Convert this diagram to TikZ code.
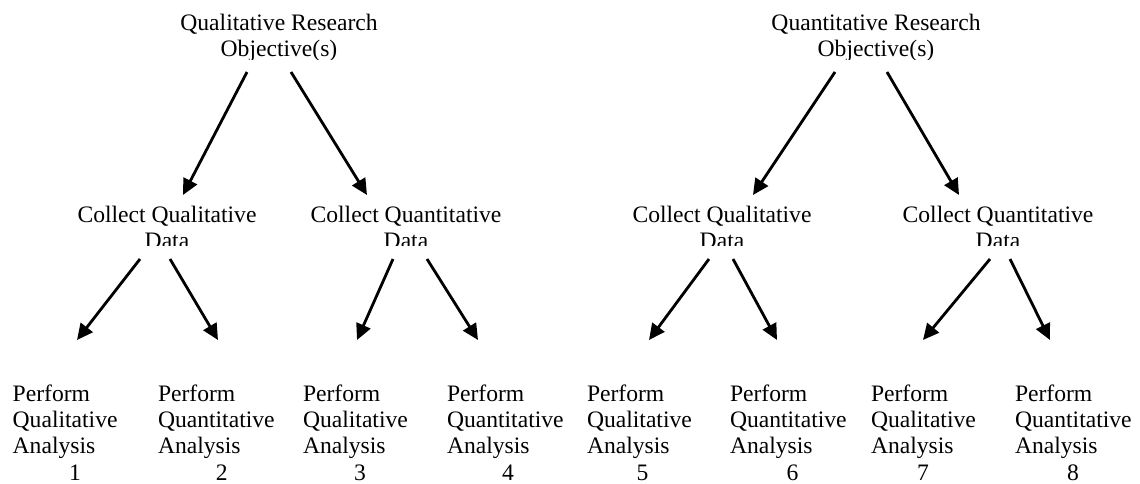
\documentclass[tikz,border=0pt]{standalone}
\usepackage{fontspec}
\setmainfont{Liberation Serif}
\usetikzlibrary{arrows.meta}
\begin{document}
\begin{tikzpicture}[x=0.5pt,y=-0.5pt,
  lbl/.style={inner sep=0pt, outer sep=0pt, anchor=base,
    font=\fontsize{11.8}{13.15}\selectfont},
  leaf/.style={lbl, anchor=base west},
  num/.style={lbl},
  arr/.style={line width=1.4pt, -{Triangle[length=8pt,width=7.5pt]}}]
\useasboundingbox (0,0) rectangle (1140,483);

% research objectives (text boxes cut off at the bottom)
\begin{scope}
  \clip (0,0) rectangle (1140,59);
  \node[lbl] (ql) at (279,30) {\begin{tabular}[t]{@{}c@{}}Qualitative Research\\Objective(s)\end{tabular}};
  \node[lbl] (qn) at (876,30) {\begin{tabular}[t]{@{}c@{}}Quantitative Research\\Objective(s)\end{tabular}};
\end{scope}

% data collection
\begin{scope}
  \clip (0,198) rectangle (1140,245);
  \node[lbl] (c1) at (167,222) {\begin{tabular}[t]{@{}c@{}}Collect Qualitative\\Data\end{tabular}};
  \node[lbl] (c2) at (406,222) {\begin{tabular}[t]{@{}c@{}}Collect Quantitative\\Data\end{tabular}};
  \node[lbl] (c3) at (722,222) {\begin{tabular}[t]{@{}c@{}}Collect Qualitative\\Data\end{tabular}};
  \node[lbl] (c4) at (998,222) {\begin{tabular}[t]{@{}c@{}}Collect Quantitative\\Data\end{tabular}};
\end{scope}

% analyses
\node[leaf] (a1) at (12.7,401) {\begin{tabular}[t]{@{}l@{}}Perform\\Qualitative\\Analysis\end{tabular}};
\node[leaf] (a2) at (158,401)  {\begin{tabular}[t]{@{}l@{}}Perform\\Quantitative\\Analysis\end{tabular}};
\node[leaf] (a3) at (303,401)  {\begin{tabular}[t]{@{}l@{}}Perform\\Qualitative\\Analysis\end{tabular}};
\node[leaf] (a4) at (447,401)  {\begin{tabular}[t]{@{}l@{}}Perform\\Quantitative\\Analysis\end{tabular}};
\node[leaf] (a5) at (587,401)  {\begin{tabular}[t]{@{}l@{}}Perform\\Qualitative\\Analysis\end{tabular}};
\node[leaf] (a6) at (730,401)  {\begin{tabular}[t]{@{}l@{}}Perform\\Quantitative\\Analysis\end{tabular}};
\node[leaf] (a7) at (871,401)  {\begin{tabular}[t]{@{}l@{}}Perform\\Qualitative\\Analysis\end{tabular}};
\node[leaf] (a8) at (1015,401) {\begin{tabular}[t]{@{}l@{}}Perform\\Quantitative\\Analysis\end{tabular}};

\node[num] (n1) at (75,480)    {1};
\node[num] (n2) at (221.7,480) {2};
\node[num] (n3) at (360,480)   {3};
\node[num] (n4) at (508,480)   {4};
\node[num] (n5) at (642.5,480) {5};
\node[num] (n6) at (792.5,480) {6};
\node[num] (n7) at (923,480)   {7};
\node[num] (n8) at (1073,480)  {8};

% objectives -> data collection
\draw[arr] ([shift={(-32,42)}]ql.base) -- ([shift={(16,-27)}]c1.base);
\draw[arr] ([shift={(12,42)}]ql.base)  -- ([shift={(-39,-27)}]c2.base);
\draw[arr] ([shift={(-41,42)}]qn.base) -- ([shift={(31,-27)}]c3.base);
\draw[arr] ([shift={(11,42)}]qn.base)  -- ([shift={(-39,-27)}]c4.base);

% data collection -> analyses
\draw[arr] ([shift={(-27,37)}]c1.base) -- ([shift={(64.3,-61)}]a1.base west);
\draw[arr] ([shift={(3,37)}]c1.base)   -- ([shift={(60,-61)}]a2.base west);
\draw[arr] ([shift={(-13,37)}]c2.base) -- ([shift={(54,-61)}]a3.base west);
\draw[arr] ([shift={(21,37)}]c2.base)  -- ([shift={(31,-61)}]a4.base west);
\draw[arr] ([shift={(-13,37)}]c3.base) -- ([shift={(62,-61)}]a5.base west);
\draw[arr] ([shift={(11,37)}]c3.base)  -- ([shift={(47,-61)}]a6.base west);
\draw[arr] ([shift={(-8,37)}]c4.base)  -- ([shift={(52,-61)}]a7.base west);
\draw[arr] ([shift={(12,37)}]c4.base)  -- ([shift={(35,-61)}]a8.base west);
\end{tikzpicture}
\end{document}
